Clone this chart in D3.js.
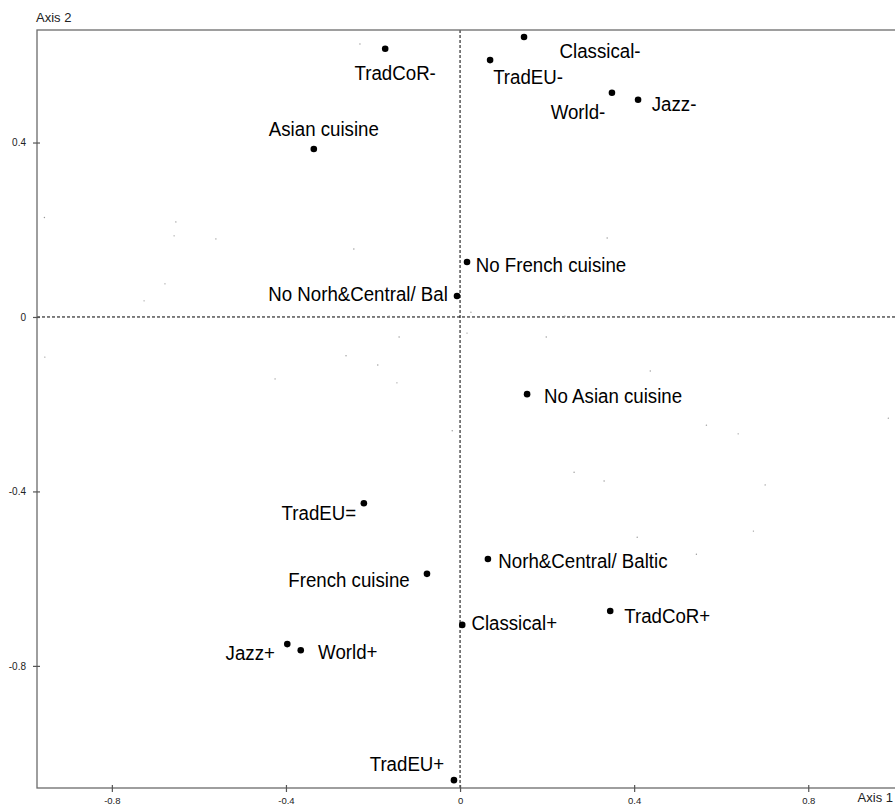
<!DOCTYPE html>
<html>
<head>
<meta charset="utf-8">
<script src="https://cdn.jsdelivr.net/npm/d3@7"></script>
<style>
  body { margin: 0; background: #fff; }
  svg { display: block; font-family: Arial, "Liberation Sans", sans-serif; }
</style>
</head>
<body>
<div id="chart"></div>
<script>
// category coordinates (axis 1, axis 2)
const categories = ['TradCoR-', 'Classical-', 'TradEU-', 'World-', 'Jazz-', 'Asian cuisine',
  'No French cuisine', 'No Norh&Central/ Bal', 'No Asian cuisine', 'TradEU=', 'French cuisine',
  'Norh&Central/ Baltic', 'Classical+', 'TradCoR+', 'Jazz+', 'World+', 'TradEU+'];
const dim1 = [-0.172, 0.147, 0.069, 0.349, 0.409, -0.336,
  0.016, -0.007, 0.154, -0.221, -0.076,
  0.064, 0.005, 0.345, -0.397, -0.366, -0.014];
const dim2 = [0.615, 0.642, 0.589, 0.514, 0.498, 0.385,
  0.126, 0.048, -0.177, -0.427, -0.589,
  -0.555, -0.706, -0.674, -0.750, -0.764, -1.062];

// label offsets from the point, in px (centre x, baseline y)
const labelDx = [10, 76, 38, -34, 36, 10, 84, -99, 86, -45, -78, 95, 52, 57, -37, 47, -47];
const labelDy = [31, 21, 24, 26, 11, -13, 10, 5, 9, 17, 13, 9, 5, 12, 16, 9, -9];

// individuals (faint points)
const indX = [-0.955, -0.653, -0.657, -0.561, -0.244, -0.678, -0.726, -0.954, -0.262, -0.140,
  -0.189, -0.425, -0.145, -0.163, 0.338, 0.025, 0.241, 0.016, 0.198, 0.437,
  0.984, -0.230, 0.566, 0.639, 0.262, 0.331, 0.701, 0.407, 0.674, 0.543, -0.018];
const indY = [0.228, 0.218, 0.186, 0.179, 0.156, 0.076, 0.037, -0.092, -0.089, -0.046,
  -0.110, -0.142, -0.151, 0.002, 0.181, 0.011, 0.002, -0.037, -0.046, -0.124,
  -0.232, 0.626, -0.248, -0.268, -0.356, -0.376, -0.385, -0.505, -0.491, -0.544, -0.261];

const ticks = [-0.8, -0.4, 0, 0.4, 0.8];

const width = 895, height = 805;
const plotLeft = 37, plotTop = 30, plotRight = 904, plotBottom = 788;

const svg = d3.select('#chart').append('svg')
  .attr('width', width)
  .attr('height', height);

const x = d3.scaleLinear().domain([-0.972, 1.02]).range([plotLeft, plotRight]);
const y = d3.scaleLinear().domain([-1.080, 0.658]).range([plotBottom, plotTop]);

// dashed zero lines
svg.append('line')
  .attr('x1', x(0)).attr('x2', x(0))
  .attr('y1', plotTop).attr('y2', plotBottom)
  .attr('stroke', '#000').attr('stroke-dasharray', '3,2');
svg.append('line')
  .attr('x1', plotLeft).attr('x2', plotRight)
  .attr('y1', y(0)).attr('y2', y(0))
  .attr('stroke', '#000').attr('stroke-dasharray', '3,2');

// frame
svg.append('rect')
  .attr('x', plotLeft).attr('y', plotTop)
  .attr('width', plotRight - plotLeft).attr('height', plotBottom - plotTop)
  .attr('fill', 'none')
  .attr('stroke', '#6b6b6b')
  .attr('stroke-width', 1.3);

// axes (plain hyphen for negatives, like the original)
const fmt = d => d === 0 ? '0' : d.toFixed(1);

const xAxis = svg.append('g')
  .attr('transform', `translate(0,${plotBottom})`)
  .call(d3.axisBottom(x).tickValues(ticks).tickSizeInner(4).tickSizeOuter(0).tickPadding(5).tickFormat(fmt));
xAxis.select('.domain').remove();
xAxis.selectAll('.tick line').attr('y1', -3).attr('stroke', '#555').attr('stroke-width', 1.2);
xAxis.selectAll('.tick text').attr('font-size', 9.5).attr('fill', '#222');

const yAxis = svg.append('g')
  .attr('transform', `translate(${plotLeft},0)`)
  .call(d3.axisLeft(y).tickValues(ticks).tickSizeInner(4).tickSizeOuter(0).tickPadding(7).tickFormat(fmt));
yAxis.select('.domain').remove();
yAxis.selectAll('.tick line').attr('x1', 3).attr('stroke', '#555').attr('stroke-width', 1.2);
yAxis.selectAll('.tick text').attr('font-size', 10).attr('fill', '#222');

// axis titles
svg.append('text')
  .attr('x', 36).attr('y', 22)
  .attr('font-size', 13).attr('fill', '#222')
  .text('Axis 2');
svg.append('text')
  .attr('x', 893).attr('y', 802)
  .attr('text-anchor', 'end')
  .attr('font-size', 13).attr('fill', '#222')
  .text('Axis 1');

// individuals
svg.append('g').selectAll('circle')
  .data(indX.map((v, i) => ({ x: v, y: indY[i] })))
  .join('circle')
  .attr('cx', d => x(d.x))
  .attr('cy', d => y(d.y))
  .attr('r', 0.7)
  .attr('fill', '#999');

// categories
const cats = categories.map((c, i) => ({ name: c, x: dim1[i], y: dim2[i], dx: labelDx[i], dy: labelDy[i] }));

svg.append('g').selectAll('circle')
  .data(cats)
  .join('circle')
  .attr('cx', d => x(d.x))
  .attr('cy', d => y(d.y))
  .attr('r', 3.3)
  .attr('fill', '#000');

svg.append('g').selectAll('text')
  .data(cats)
  .join('text')
  .attr('transform', d => `translate(${x(d.x) + d.dx},${y(d.y) + d.dy}) scale(0.89,1)`)
  .attr('text-anchor', 'middle')
  .attr('font-size', 21)
  .attr('fill', '#000')
  .text(d => d.name);
</script>
</body>
</html>
